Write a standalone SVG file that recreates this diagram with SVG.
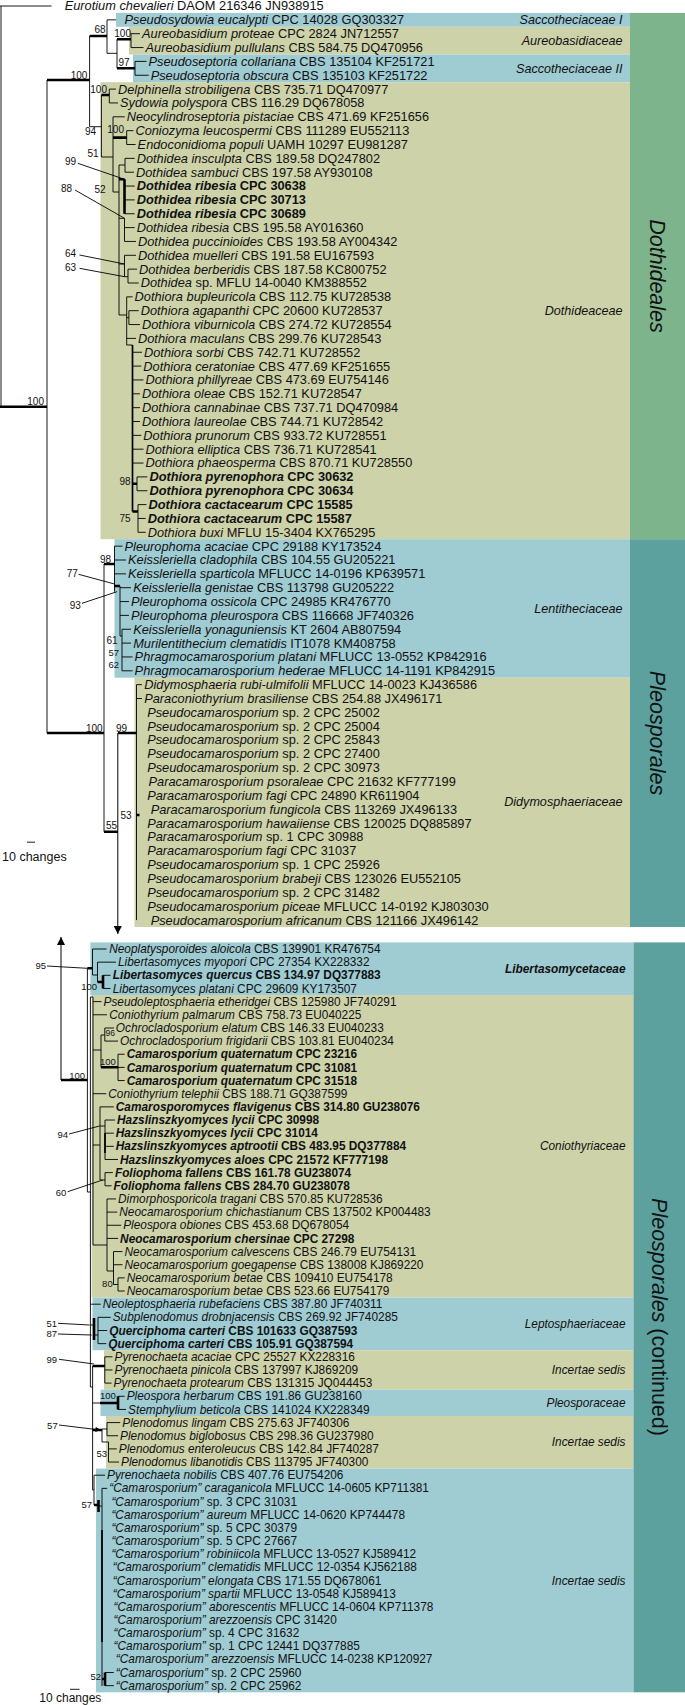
<svg xmlns="http://www.w3.org/2000/svg" width="685" height="1705" viewBox="0 0 685 1705">
<style>
text{font-family:"Liberation Sans",Arial,Helvetica,sans-serif;fill:#111}
.tt{font-size:12.8px}
.bt{font-size:11.85px}
.i{font-style:italic}
.bd{font-weight:bold}
.fam{font-size:12.6px;font-style:italic;text-anchor:end}
.famb{font-size:11.85px;font-style:italic;text-anchor:end}
.nl{font-size:10px;text-anchor:end}
.nlb{font-size:9.5px;text-anchor:end}
.ord{font-size:21.5px;text-anchor:middle}
.ln{fill:none;stroke:#000;stroke-width:0.9}
.tk{fill:none;stroke:#000;stroke-width:2.6}
.md{fill:none;stroke:#000;stroke-width:1.7}
.ar{fill:none;stroke:#000;stroke-width:0.9;marker-end:url(#ah)}
.ar2{fill:none;stroke:#000;stroke-width:1;marker-end:url(#ah2)}
.olive{fill:#cdd2a9}
.blue{fill:#9fcbd3}
.green{fill:#7db48b}
.teal{fill:#5ca19e}
</style>
<defs>
<marker id="ah" viewBox="0 0 10 10" refX="10" refY="5" markerWidth="7" markerHeight="5" markerUnits="userSpaceOnUse" orient="auto"><path d="M0,0 L10,5 L0,10 z" fill="#000"/></marker>
<marker id="ah2" viewBox="0 0 10 10" refX="10" refY="5" markerWidth="9" markerHeight="8" markerUnits="userSpaceOnUse" orient="auto"><path d="M0,0 L10,5 L0,10 z" fill="#000"/></marker>
</defs>
<rect width="685" height="1705" fill="#fff"/>
<g id="bands">
<rect class="blue" x="116" y="12.9" width="514" height="13.9"/>
<rect class="olive" x="129" y="26.8" width="501" height="27.7"/>
<rect class="blue" x="133" y="54.5" width="497" height="27.7"/>
<rect class="olive" x="100.5" y="82.2" width="529.5" height="457"/>
<rect class="blue" x="114.5" y="539.2" width="515.5" height="138.5"/>
<rect class="olive" x="134.5" y="677.7" width="495.5" height="249.3"/>
<rect class="green" x="630" y="12.9" width="55" height="526.3"/>
<rect class="teal" x="630" y="539.2" width="55" height="387.8"/>
<rect class="blue" x="90.4" y="942.4" width="543.1" height="52.65"/>
<rect class="olive" x="91.7" y="995.05" width="541.8" height="302.55"/>
<rect class="blue" x="92.5" y="1297.6" width="541" height="52.6"/>
<rect class="olive" x="104" y="1350.2" width="529.5" height="39.5"/>
<rect class="blue" x="100.5" y="1389.7" width="533" height="26.3"/>
<rect class="olive" x="106" y="1416" width="527.5" height="52.6"/>
<rect class="blue" x="96" y="1468.6" width="537.5" height="223.7"/>
<rect class="teal" x="633.5" y="942.4" width="51.5" height="749.9"/>
</g>
<g id="connectors">
<path class="ln" d="M1,6V406.7M0,6H51.5M47,80V733M89.6,36V126.7H101.4M107,19.85V53.3M107,19.85H116M107,53.3H117M117,39.3V68.3M131,33.7V47.55M131,33.7H140M131,47.55H143.5M135,61.4V75.25M135,61.4H146.5M135,75.25H148.7M101.4,95V157H113M109.3,89.1V102.95M109.3,89.1H116M109.3,102.95H118M113,116.8V192M113,116.8H124.7M126.7,130.65V144.5M126.7,130.65H133.4M126.7,144.5H135.6M113,192H119M119,165V315M119,165H125M125,158.35V172.2M125,158.35H134.7M125,172.2H134M124.5,186.05H134.7M124.5,199.9H134.7M124.5,213.75H134.7M119,218.3H124.5M124.5,218.3V241.45M124.5,227.6H134.7M124.5,241.45H136M119,264H124.5M124.5,255.3V276.7M124.5,255.3H136M124.5,276.7H128M128,269.15V283M128,269.15H137M128,283H138.7"/>
<path class="ln" d="M119,315H126.7M126.7,296.85V345M126.7,296.85H132.6M126.7,317.6H128.9M128.9,310.7V324.55M128.9,310.7H138.7M128.9,324.55H140M126.7,338.4H136M126.7,345H132.5M132.5,352.25H142M132.5,366.1H141.3M132.5,379.95H143.5M132.5,393.8H140M132.5,407.65H140M132.5,421.5H140M132.5,435.35H141.3M132.5,449.2H143.5M132.5,463.05H143.5M137,476.9V490.75M137,476.9H147.4M137,490.75H147.4M138,504.6V532.3M138,504.6H146.5M138,518.45H145.7M138,532.3H145.7"/>
<path class="md" d="M132.5,345V511.5"/>
<path class="tk" d="M0,406.7H47M47,80H89.6M89.6,36H107M117,39.3H131M117,68.3H135M101.4,95H109.3M113,137.6H126.7M119,179.3H124.5M124.5,179.3V213.75M132.5,483.8H137M132.5,511.5H138"/>
<path class="ln" d="M104,564V831.7M114.5,546.15V591.7M114.5,546.15H122.5M114.5,560H126M114.5,573.85H126M120,586V636M120,587.7H131M120,601.55H129M120,615.4H129M120,636H122M122,629.25V670.8M122,629.25H131M122,643.1H131M122,656.95H132.6M122,670.8H132.6M136.5,684.65V920.1M136.5,684.65H142M136.5,698.5H142"/>
<path class="tk" d="M104,564H114.5M114.5,586H120M47,733H104M104,831.7H118M118,733H136.5M136.5,815H139.5"/>
<path class="ar2" d="M117.8,733V934"/>
<path class="ln" d="M27,842.2H35"/>
<path class="ar2" d="M61,1080V937"/>
<path class="tk" d="M61,1080H87.4M87.4,968.3H92.5M97.5,982H103M103,975.31V988.47M101,1067.3H118M92.6,1366H104.8M100,1403H118M118,1396.27V1409.43M92.6,1430H102M94,1505H98.5M98.5,1500V1512M102,1679H105M105,1672.53V1685.68M94,1318V1340"/>
<path class="md" d="M105,1133V1153M102,1530V1642"/>
<path class="ln" d="M87.4,968.3V1192M92.5,949V975M92.5,949H106.5M92.5,975H97.5M97.5,962.16V982M97.5,962.16H116M103,975.31H110.5M103,988.47H110.5M87.4,1192H90.4M90.4,997V1387M90.4,997H93M93,997V1245M93,1001.62H101.5M93,1014.78H107M93,1050H101M101,1035V1067.3M101,1035H104.8M104.8,1028V1041.09M104.8,1028H114M104.8,1041.09H118M118,1054.24V1080.55M118,1054.24H124.7M118,1067.4H124.7M118,1080.55H124.7M93,1093.71H106.3M93,1145H100M100,1106.86V1180M100,1106.86H113.8M100,1126H105M105,1120.02V1159.48M105,1120.02H115M105,1133.17H113.8M105,1146.33H113.8M105,1159.48H118M100,1180H105M105,1172.64V1185.79M105,1172.64H112.9M105,1185.79H111.6M93,1245H107M107,1198.95V1271M107,1198.95H116M107,1212.1H117.3M107,1225.26H121.2M107,1238.41H118.1M107,1271H113.5M113.5,1251.57V1284.5M113.5,1251.57H122.5M113.5,1264.72H122.5M113.5,1284.5H118M118,1277.88V1291.03M118,1277.88H124.7M118,1291.03H124.7"/>
<path class="ln" d="M90.4,1304.19H100.7M90.4,1325H94M94,1335H98M98,1317.34V1343.65M98,1317.34H110.7M98,1330.5H107.2M98,1343.65H106.3M90.4,1387H92.6M92.6,1366V1490M104.8,1356.81V1383.12M104.8,1356.81H112.5M104.8,1369.96H112.5M104.8,1383.12H111.6M92.6,1403H100M118,1396.27H124.7M118,1409.43H126M102,1429V1442M102,1429H107M107,1422.58V1435.74M107,1422.58H120.3M107,1435.74H118.1M102,1442H108.5M108.5,1442V1462.05M108.5,1448.89H116.8M108.5,1462.05H119M92.6,1490H94M94,1475.2V1505M94,1475.2H105M98.5,1506H102M102,1488.36V1686M102,1488.36H107.2M105,1672.53H113.8M105,1685.68H113.8"/>
<path class="ln" d="M70,1689.3H79.5"/>
<path class="ar" d="M77.8,163.3L124.5,179.3M75,190L124.5,218.3M79.5,255L124.5,264M79.5,268.3L124.5,276.7M78.6,574.3L114.5,584M82,603.3L117,591.7M47,966L87.4,968.3M69,1134L99.6,1126M67.7,1191.7L102.7,1180M58,1323.3L89.6,1325M58,1334L91.7,1335M59,1359.3L94,1364M59,1425L100.5,1430"/>
</g>
<g id="support-values">
<text class="nl" x="44" y="405">100</text>
<text class="nl" x="87.4" y="78.5">100</text>
<text class="nl" x="105.5" y="33">68</text>
<text class="nl" x="131" y="37.3">100</text>
<text class="nl" x="129.5" y="66">97</text>
<text class="nl" x="107" y="93">100</text>
<text class="nl" x="96" y="135">94</text>
<text class="nl" x="124" y="132.6">100</text>
<text class="nl" x="98.5" y="156.5">51</text>
<text class="nl" x="105.5" y="193">52</text>
<text class="nl" x="76" y="165">99</text>
<text class="nl" x="72" y="191.8">88</text>
<text class="nl" x="76" y="256.8">64</text>
<text class="nl" x="76" y="270.8">63</text>
<text class="nl" x="130.5" y="485">98</text>
<text class="nl" x="130.5" y="522">75</text>
<text class="nl" x="111" y="562.5">98</text>
<text class="nl" x="77.8" y="576.8">77</text>
<text class="nl" x="80.8" y="608.5">93</text>
<text class="nl" x="117.5" y="643.5">61</text>
<text class="nlb" x="119" y="655.5">57</text>
<text class="nlb" x="119" y="667.5">62</text>
<text class="nl" x="102.7" y="731.5">100</text>
<text class="nl" x="127" y="731.5">99</text>
<text class="nl" x="131.5" y="818.5">53</text>
<text class="nl" x="117" y="829">55</text>
<text class="nlb" x="46" y="969.3">95</text>
<text class="nlb" x="97" y="990">100</text>
<text class="nlb" x="85" y="1078.5">100</text>
<text class="nlb" x="115" y="1035.5" style="font-size:8.5px">96</text>
<text class="nlb" x="115.8" y="1065">100</text>
<text class="nlb" x="68" y="1138.3">94</text>
<text class="nlb" x="66.4" y="1196">60</text>
<text class="nlb" x="112.7" y="1287.3">80</text>
<text class="nlb" x="57" y="1327.3">51</text>
<text class="nlb" x="57" y="1337.3">87</text>
<text class="nlb" x="57" y="1362.6">99</text>
<text class="nlb" x="115.8" y="1399.3">100</text>
<text class="nlb" x="57.7" y="1429.3">57</text>
<text class="nlb" x="107" y="1456.6">53</text>
<text class="nlb" x="92" y="1508.3">57</text>
<text class="nlb" x="101" y="1680">52</text>
</g>
<g id="scale-bars">
<text x="2" y="860.5" style="font-size:12.5px">10 changes</text>
<text x="39.3" y="1702" style="font-size:12px">10 changes</text>
</g>
<g id="top-taxa" class="tt">
<g id="t01"><text x="64.7" y="10.4"><tspan class="i">Eurotium chevalieri</tspan> DAOM 216346 JN938915</text></g>
<g id="t02"><text x="124.5" y="24.25"><tspan class="i">Pseudosydowia eucalypti</tspan> CPC 14028 GQ303327</text></g>
<g id="t03"><text x="142" y="38.1"><tspan class="i">Aureobasidium proteae</tspan> CPC 2824 JN712557</text></g>
<g id="t04"><text x="145.5" y="51.95"><tspan class="i">Aureobasidium pullulans</tspan> CBS 584.75 DQ470956</text></g>
<g id="t05"><text x="148.5" y="65.8"><tspan class="i">Pseudoseptoria collariana</tspan> CBS 135104 KF251721</text></g>
<g id="t06"><text x="150.7" y="79.65"><tspan class="i">Pseudoseptoria obscura</tspan> CBS 135103 KF251722</text></g>
<g id="t07"><text x="118" y="93.5"><tspan class="i">Delphinella strobiligena</tspan> CBS 735.71 DQ470977</text></g>
<g id="t08"><text x="120" y="107.35"><tspan class="i">Sydowia polyspora</tspan> CBS 116.29 DQ678058</text></g>
<g id="t09"><text x="126.7" y="121.2"><tspan class="i">Neocylindroseptoria pistaciae</tspan> CBS 471.69 KF251656</text></g>
<g id="t10"><text x="135.4" y="135.05"><tspan class="i">Coniozyma leucospermi</tspan> CBS 111289 EU552113</text></g>
<g id="t11"><text x="137.6" y="148.9"><tspan class="i">Endoconidioma populi</tspan> UAMH 10297 EU981287</text></g>
<g id="t12"><text x="136.7" y="162.75"><tspan class="i">Dothidea insculpta</tspan> CBS 189.58 DQ247802</text></g>
<g id="t13"><text x="136" y="176.6"><tspan class="i">Dothidea sambuci</tspan> CBS 197.58 AY930108</text></g>
<g id="t14"><text class="bd" x="136.7" y="190.45"><tspan class="i">Dothidea ribesia</tspan> CPC 30638</text></g>
<g id="t15"><text class="bd" x="136.7" y="204.3"><tspan class="i">Dothidea ribesia</tspan> CPC 30713</text></g>
<g id="t16"><text class="bd" x="136.7" y="218.15"><tspan class="i">Dothidea ribesia</tspan> CPC 30689</text></g>
<g id="t17"><text x="136.7" y="232"><tspan class="i">Dothidea ribesia</tspan> CBS 195.58 AY016360</text></g>
<g id="t18"><text x="138" y="245.85"><tspan class="i">Dothidea puccinioides</tspan> CBS 193.58 AY004342</text></g>
<g id="t19"><text x="138" y="259.7"><tspan class="i">Dothidea muelleri</tspan> CBS 191.58 EU167593</text></g>
<g id="t20"><text x="139" y="273.55"><tspan class="i">Dothidea berberidis</tspan> CBS 187.58 KC800752</text></g>
<g id="t21"><text x="140.7" y="287.4"><tspan class="i">Dothidea</tspan> sp. MFLU 14-0040 KM388552</text></g>
<g id="t22"><text x="134.6" y="301.25"><tspan class="i">Dothiora bupleuricola</tspan> CBS 112.75 KU728538</text></g>
<g id="t23"><text x="140.7" y="315.1"><tspan class="i">Dothiora agapanthi</tspan> CPC 20600 KU728537</text></g>
<g id="t24"><text x="142" y="328.95"><tspan class="i">Dothiora viburnicola</tspan> CBS 274.72 KU728554</text></g>
<g id="t25"><text x="138" y="342.8"><tspan class="i">Dothiora maculans</tspan> CBS 299.76 KU728543</text></g>
<g id="t26"><text x="144" y="356.65"><tspan class="i">Dothiora sorbi</tspan> CBS 742.71 KU728552</text></g>
<g id="t27"><text x="143.3" y="370.5"><tspan class="i">Dothiora ceratoniae</tspan> CBS 477.69 KF251655</text></g>
<g id="t28"><text x="145.5" y="384.35"><tspan class="i">Dothiora phillyreae</tspan> CBS 473.69 EU754146</text></g>
<g id="t29"><text x="142" y="398.2"><tspan class="i">Dothiora oleae</tspan> CBS 152.71 KU728547</text></g>
<g id="t30"><text x="142" y="412.05"><tspan class="i">Dothiora cannabinae</tspan> CBS 737.71 DQ470984</text></g>
<g id="t31"><text x="142" y="425.9"><tspan class="i">Dothiora laureolae</tspan> CBS 744.71 KU728542</text></g>
<g id="t32"><text x="143.3" y="439.75"><tspan class="i">Dothiora prunorum</tspan> CBS 933.72 KU728551</text></g>
<g id="t33"><text x="145.5" y="453.6"><tspan class="i">Dothiora elliptica</tspan> CBS 736.71 KU728541</text></g>
<g id="t34"><text x="145.5" y="467.45"><tspan class="i">Dothiora phaeosperma</tspan> CBS 870.71 KU728550</text></g>
<g id="t35"><text class="bd" x="149.4" y="481.3"><tspan class="i">Dothiora pyrenophora</tspan> CPC 30632</text></g>
<g id="t36"><text class="bd" x="149.4" y="495.15"><tspan class="i">Dothiora pyrenophora</tspan> CPC 30634</text></g>
<g id="t37"><text class="bd" x="148.5" y="509"><tspan class="i">Dothiora cactacearum</tspan> CPC 15585</text></g>
<g id="t38"><text class="bd" x="147.7" y="522.85"><tspan class="i">Dothiora cactacearum</tspan> CPC 15587</text></g>
<g id="t39"><text x="147.7" y="536.7"><tspan class="i">Dothiora buxi</tspan> MFLU 15-3404 KX765295</text></g>
<g id="t40"><text x="124.5" y="550.55"><tspan class="i">Pleurophoma acaciae</tspan> CPC 29188 KY173524</text></g>
<g id="t41"><text x="128" y="564.4"><tspan class="i">Keissleriella cladophila</tspan> CBS 104.55 GU205221</text></g>
<g id="t42"><text x="128" y="578.25"><tspan class="i">Keissleriella sparticola</tspan> MFLUCC 14-0196 KP639571</text></g>
<g id="t43"><text x="133.2" y="592.1"><tspan class="i">Keissleriella genistae</tspan> CBS 113798 GU205222</text></g>
<g id="t44"><text x="131" y="605.95"><tspan class="i">Pleurophoma ossicola</tspan> CPC 24985 KR476770</text></g>
<g id="t45"><text x="131" y="619.8"><tspan class="i">Pleurophoma pleurospora</tspan> CBS 116668 JF740326</text></g>
<g id="t46"><text x="133.2" y="633.65"><tspan class="i">Keissleriella yonaguniensis</tspan> KT 2604 AB807594</text></g>
<g id="t47"><text x="133.2" y="647.5"><tspan class="i">Murilentithecium clematidis</tspan> IT1078 KM408758</text></g>
<g id="t48"><text x="134.6" y="661.35"><tspan class="i">Phragmocamarosporium platani</tspan> MFLUCC 13-0552 KP842916</text></g>
<g id="t49"><text x="134.6" y="675.2"><tspan class="i">Phragmocamarosporium hederae</tspan> MFLUCC 14-1191 KP842915</text></g>
<g id="t50"><text x="144.2" y="689.05"><tspan class="i">Didymosphaeria rubi-ulmifolii</tspan> MFLUCC 14-0023 KJ436586</text></g>
<g id="t51"><text x="144.2" y="702.9"><tspan class="i">Paraconiothyrium brasiliense</tspan> CBS 254.88 JX496171</text></g>
<g id="t52"><text x="147.2" y="716.75"><tspan class="i">Pseudocamarosporium</tspan> sp. 2 CPC 25002</text></g>
<g id="t53"><text x="147.2" y="730.6"><tspan class="i">Pseudocamarosporium</tspan> sp. 2 CPC 25004</text></g>
<g id="t54"><text x="147.2" y="744.45"><tspan class="i">Pseudocamarosporium</tspan> sp. 2 CPC 25843</text></g>
<g id="t55"><text x="147.2" y="758.3"><tspan class="i">Pseudocamarosporium</tspan> sp. 2 CPC 27400</text></g>
<g id="t56"><text x="147.2" y="772.15"><tspan class="i">Pseudocamarosporium</tspan> sp. 2 CPC 30973</text></g>
<g id="t57"><text x="148.5" y="786"><tspan class="i">Paracamarosporium psoraleae</tspan> CPC 21632 KF777199</text></g>
<g id="t58"><text x="147.2" y="799.85"><tspan class="i">Paracamarosporium fagi</tspan> CPC 24890 KR611904</text></g>
<g id="t59"><text x="150.7" y="813.7"><tspan class="i">Paracamarosporium fungicola</tspan> CBS 113269 JX496133</text></g>
<g id="t60"><text x="147.2" y="827.55"><tspan class="i">Paracamarosporium hawaiiense</tspan> CBS 120025 DQ885897</text></g>
<g id="t61"><text x="147.2" y="841.4"><tspan class="i">Paracamarosporium</tspan> sp. 1 CPC 30988</text></g>
<g id="t62"><text x="147.2" y="855.25"><tspan class="i">Paracamarosporium fagi</tspan> CPC 31037</text></g>
<g id="t63"><text x="147.2" y="869.1"><tspan class="i">Pseudocamarosporium</tspan> sp. 1 CPC 25926</text></g>
<g id="t64"><text x="147.2" y="882.95"><tspan class="i">Pseudocamarosporium brabeji</tspan> CBS 123026 EU552105</text></g>
<g id="t65"><text x="147.2" y="896.8"><tspan class="i">Pseudocamarosporium</tspan> sp. 2 CPC 31482</text></g>
<g id="t66"><text x="147.2" y="910.65"><tspan class="i">Pseudocamarosporium piceae</tspan> MFLUCC 14-0192 KJ803030</text></g>
<g id="t67"><text x="150.7" y="924.5"><tspan class="i">Pseudocamarosporium africanum</tspan> CBS 121166 JX496142</text></g>
</g>
<g id="bottom-taxa" class="bt">
<g id="b01"><text x="109.2" y="953.1"><tspan class="i">Neoplatysporoides aloicola</tspan> CBS 139901 KR476754</text></g>
<g id="b02"><text x="118" y="966.26"><tspan class="i">Libertasomyces myopori</tspan> CPC 27354 KX228332</text></g>
<g id="b03"><text class="bd" x="112.7" y="979.41"><tspan class="i">Libertasomyces quercus</tspan> CBS 134.97 DQ377883</text></g>
<g id="b04"><text x="112.7" y="992.57"><tspan class="i">Libertasomyces platani</tspan> CPC 29609 KY173507</text></g>
<g id="b05"><text x="103.5" y="1005.72"><tspan class="i">Pseudoleptosphaeria etheridgei</tspan> CBS 125980 JF740291</text></g>
<g id="b06"><text x="109.2" y="1018.88"><tspan class="i">Coniothyrium palmarum</tspan> CBS 758.73 EU040225</text></g>
<g id="b07"><text x="115.8" y="1032.03"><tspan class="i">Ochrocladosporium elatum</tspan> CBS 146.33 EU040233</text></g>
<g id="b08"><text x="120" y="1045.19"><tspan class="i">Ochrocladosporium frigidarii</tspan> CBS 103.81 EU040234</text></g>
<g id="b09"><text class="bd" x="126.7" y="1058.34"><tspan class="i">Camarosporium quaternatum</tspan> CPC 23216</text></g>
<g id="b10"><text class="bd" x="126.7" y="1071.5"><tspan class="i">Camarosporium quaternatum</tspan> CPC 31081</text></g>
<g id="b11"><text class="bd" x="126.7" y="1084.65"><tspan class="i">Camarosporium quaternatum</tspan> CPC 31518</text></g>
<g id="b12"><text x="108.3" y="1097.81"><tspan class="i">Coniothyrium telephii</tspan> CBS 188.71 GQ387599</text></g>
<g id="b13"><text class="bd" x="115.8" y="1110.96"><tspan class="i">Camarosporomyces flavigenus</tspan> CBS 314.80 GU238076</text></g>
<g id="b14"><text class="bd" x="117" y="1124.12"><tspan class="i">Hazslinszkyomyces lycii</tspan> CPC 30998</text></g>
<g id="b15"><text class="bd" x="115.8" y="1137.27"><tspan class="i">Hazslinszkyomyces lycii</tspan> CPC 31014</text></g>
<g id="b16"><text class="bd" x="115.8" y="1150.43"><tspan class="i">Hazslinszkyomyces aptrootii</tspan> CBS 483.95 DQ377884</text></g>
<g id="b17"><text class="bd" x="120" y="1163.58"><tspan class="i">Hazslinszkyomyces aloes</tspan> CPC 21572 KF777198</text></g>
<g id="b18"><text class="bd" x="114.9" y="1176.74"><tspan class="i">Foliophoma fallens</tspan> CBS 161.78 GU238074</text></g>
<g id="b19"><text class="bd" x="113.6" y="1189.89"><tspan class="i">Foliophoma fallens</tspan> CBS 284.70 GU238078</text></g>
<g id="b20"><text x="118" y="1203.05"><tspan class="i">Dimorphosporicola tragani</tspan> CBS 570.85 KU728536</text></g>
<g id="b21"><text x="119.3" y="1216.2"><tspan class="i">Neocamarosporium chichastianum</tspan> CBS 137502 KP004483</text></g>
<g id="b22"><text x="123.2" y="1229.36"><tspan class="i">Pleospora obiones</tspan> CBS 453.68 DQ678054</text></g>
<g id="b23"><text class="bd" x="120.1" y="1242.51"><tspan class="i">Neocamarosporium chersinae</tspan> CPC 27298</text></g>
<g id="b24"><text x="124.5" y="1255.67"><tspan class="i">Neocamarosporium calvescens</tspan> CBS 246.79 EU754131</text></g>
<g id="b25"><text x="124.5" y="1268.82"><tspan class="i">Neocamarosporium goegapense</tspan> CBS 138008 KJ869220</text></g>
<g id="b26"><text x="126.7" y="1281.98"><tspan class="i">Neocamarosporium betae</tspan> CBS 109410 EU754178</text></g>
<g id="b27"><text x="126.7" y="1295.13"><tspan class="i">Neocamarosporium betae</tspan> CBS 523.66 EU754179</text></g>
<g id="b28"><text x="102.7" y="1308.29"><tspan class="i">Neoleptosphaeria rubefaciens</tspan> CBS 387.80 JF740311</text></g>
<g id="b29"><text x="112.7" y="1321.44"><tspan class="i">Subplenodomus drobnjacensis</tspan> CBS 269.92 JF740285</text></g>
<g id="b30"><text class="bd" x="109.2" y="1334.6"><tspan class="i">Querciphoma carteri</tspan> CBS 101633 GQ387593</text></g>
<g id="b31"><text class="bd" x="108.3" y="1347.75"><tspan class="i">Querciphoma carteri</tspan> CBS 105.91 GQ387594</text></g>
<g id="b32"><text x="114.5" y="1360.91"><tspan class="i">Pyrenochaeta acaciae</tspan> CPC 25527 KX228316</text></g>
<g id="b33"><text x="114.5" y="1374.06"><tspan class="i">Pyrenochaeta pinicola</tspan> CBS 137997 KJ869209</text></g>
<g id="b34"><text x="113.6" y="1387.22"><tspan class="i">Pyrenochaeta protearum</tspan> CBS 131315 JQ044453</text></g>
<g id="b35"><text x="126.7" y="1400.37"><tspan class="i">Pleospora herbarum</tspan> CBS 191.86 GU238160</text></g>
<g id="b36"><text x="128" y="1413.53"><tspan class="i">Stemphylium beticola</tspan> CBS 141024 KX228349</text></g>
<g id="b37"><text x="122.3" y="1426.68"><tspan class="i">Plenodomus lingam</tspan> CBS 275.63 JF740306</text></g>
<g id="b38"><text x="120.1" y="1439.84"><tspan class="i">Plenodomus biglobosus</tspan> CBS 298.36 GU237980</text></g>
<g id="b39"><text x="118.8" y="1452.99"><tspan class="i">Plenodomus enteroleucus</tspan> CBS 142.84 JF740287</text></g>
<g id="b40"><text x="121" y="1466.15"><tspan class="i">Plenodomus libanotidis</tspan> CBS 113795 JF740300</text></g>
<g id="b41"><text x="107" y="1479.3"><tspan class="i">Pyrenochaeta nobilis</tspan> CBS 407.76 EU754206</text></g>
<g id="b42"><text x="109.2" y="1492.46"><tspan class="i">“Camarosporium” caraganicola</tspan> MFLUCC 14-0605 KP711381</text></g>
<g id="b43"><text x="111.4" y="1505.61"><tspan class="i">“Camarosporium”</tspan> sp. 3 CPC 31031</text></g>
<g id="b44"><text x="111.4" y="1518.77"><tspan class="i">“Camarosporium” aureum</tspan> MFLUCC 14-0620 KP744478</text></g>
<g id="b45"><text x="111.4" y="1531.92"><tspan class="i">“Camarosporium”</tspan> sp. 5 CPC 30379</text></g>
<g id="b46"><text x="111.4" y="1545.08"><tspan class="i">“Camarosporium”</tspan> sp. 5 CPC 27667</text></g>
<g id="b47"><text x="111.4" y="1558.23"><tspan class="i">“Camarosporium” robiniicola</tspan> MFLUCC 13-0527 KJ589412</text></g>
<g id="b48"><text x="112.7" y="1571.39"><tspan class="i">“Camarosporium” clematidis</tspan> MFLUCC 12-0354 KJ562188</text></g>
<g id="b49"><text x="112.7" y="1584.54"><tspan class="i">“Camarosporium” elongata</tspan> CBS 171.55 DQ678061</text></g>
<g id="b50"><text x="112.7" y="1597.7"><tspan class="i">“Camarosporium” spartii</tspan> MFLUCC 13-0548 KJ589413</text></g>
<g id="b51"><text x="113.6" y="1610.85"><tspan class="i">“Camarosporium” aborescentis</tspan> MFLUCC 14-0604 KP711378</text></g>
<g id="b52"><text x="113.6" y="1624.01"><tspan class="i">“Camarosporium” arezzoensis</tspan> CPC 31420</text></g>
<g id="b53"><text x="113.6" y="1637.16"><tspan class="i">“Camarosporium”</tspan> sp. 4 CPC 31632</text></g>
<g id="b54"><text x="113.6" y="1650.32"><tspan class="i">“Camarosporium”</tspan> sp. 1 CPC 12441 DQ377885</text></g>
<g id="b55"><text x="115.8" y="1663.47"><tspan class="i">“Camarosporium” arezzoensis</tspan> MFLUCC 14-0238 KP120927</text></g>
<g id="b56"><text x="115.8" y="1676.63"><tspan class="i">“Camarosporium”</tspan> sp. 2 CPC 25960</text></g>
<g id="b57"><text x="115.8" y="1689.78"><tspan class="i">“Camarosporium”</tspan> sp. 2 CPC 25962</text></g>
</g>
<g id="family-labels">
<g id="f-sacc1"><text class="fam" x="622.5" y="24.25">Saccotheciaceae I</text></g>
<g id="f-aureo"><text class="fam" x="622.5" y="45">Aureobasidiaceae</text></g>
<g id="f-sacc2"><text class="fam" x="622.5" y="72.7">Saccotheciaceae II</text></g>
<g id="f-dothid"><text class="fam" x="622.5" y="315.1">Dothideaceae</text></g>
<g id="f-lenti"><text class="fam" x="622.5" y="612.7">Lentitheciaceae</text></g>
<g id="f-didymo"><text class="fam" x="622.5" y="806.4">Didymosphaeriaceae</text></g>
<g id="f-liber"><text class="famb bd" x="625.5" y="973.1">Libertasomycetaceae</text></g>
<g id="f-conio"><text class="famb" x="625.5" y="1150.43">Coniothyriaceae</text></g>
<g id="f-lepto"><text class="famb" x="625.5" y="1328.1">Leptosphaeriaceae</text></g>
<g id="f-inc1"><text class="famb" x="625.5" y="1374.06">Incertae sedis</text></g>
<g id="f-pleo"><text class="famb" x="625.5" y="1407.1">Pleosporaceae</text></g>
<g id="f-inc2"><text class="famb" x="625.5" y="1446.4">Incertae sedis</text></g>
<g id="f-inc3"><text class="famb" x="625.5" y="1584.54">Incertae sedis</text></g>
</g>
<g id="order-labels">
<g id="o-dothideales"><text class="ord i" transform="translate(650,276) rotate(90)">Dothideales</text></g>
<g id="o-pleosporales"><text class="ord i" transform="translate(650,733) rotate(90)">Pleosporales</text></g>
<g id="o-pleosporales-cont"><text class="ord" transform="translate(651.5,1317) rotate(90)"><tspan class="i">Pleosporales</tspan> (continued)</text></g>
</g>
</svg>
